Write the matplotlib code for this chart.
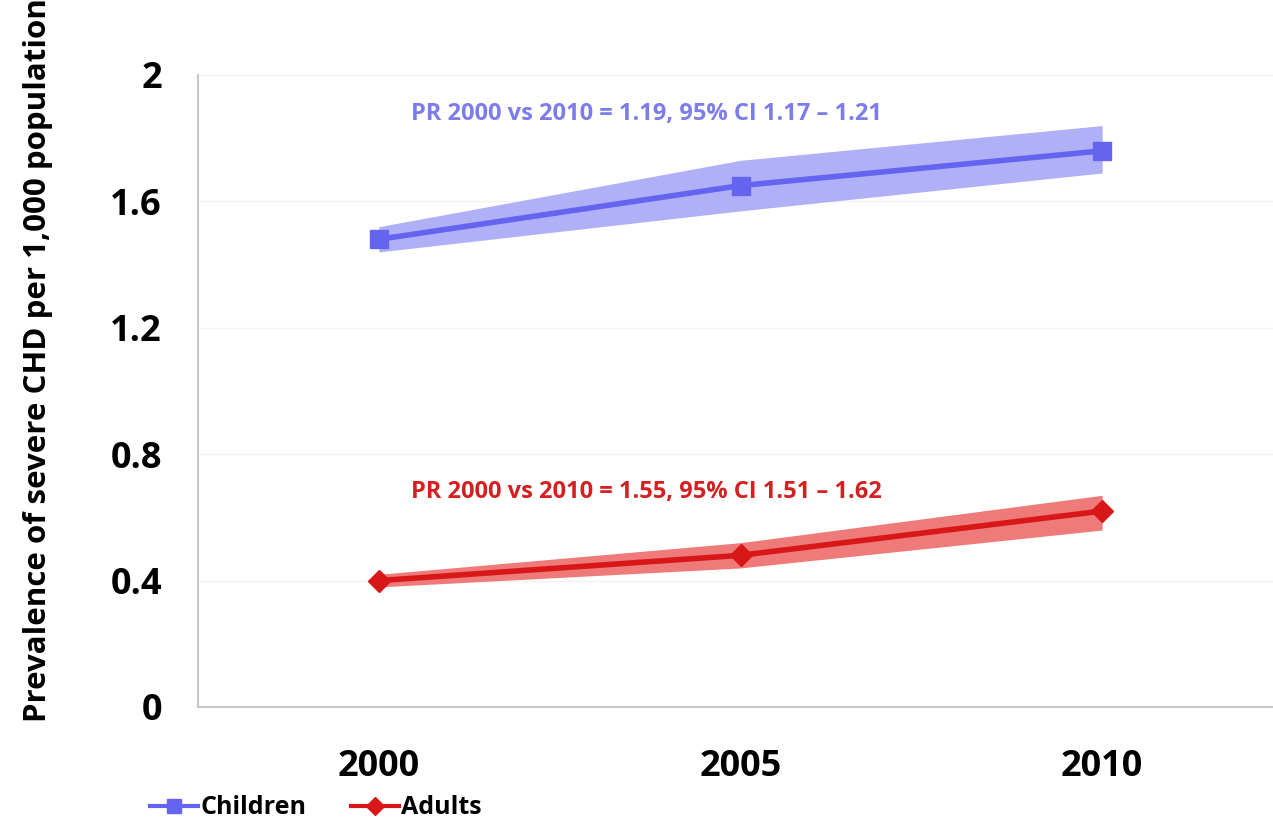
import matplotlib.pyplot as plt
from matplotlib.lines import Line2D

plt.rcParams['font.family'] = ['Open Sans', 'DejaVu Sans']
plt.rcParams['font.weight'] = 'bold'

years = ['2000', '2005', '2010']
children = [1.48, 1.65, 1.76]
children_lo = [1.44, 1.57, 1.69]
children_hi = [1.52, 1.73, 1.84]
adults = [0.40, 0.48, 0.62]
adults_lo = [0.38, 0.44, 0.56]
adults_hi = [0.42, 0.52, 0.67]
yticks = [0, 0.4, 0.8, 1.2, 1.6, 2]
ytick_labels = ['0', '0.4', '0.8', '1.2', '1.6', '2']
child_note = 'PR 2000 vs 2010 = 1.19, 95% CI 1.17 \u2013 1.21'
adult_note = 'PR 2000 vs 2010 = 1.55, 95% CI 1.51 \u2013 1.62'
ylabel = 'Prevalence of severe CHD per 1,000 population'

blue = '#6464f0'
blue_band = '#b0b0f7'
red = '#d81818'
red_band = '#ef7a7a'

W, H = 1273, 824
fig = plt.figure(figsize=(W / 100, H / 100), dpi=100)
ax = fig.add_axes([198 / W, 1 - 707 / H, (1283 - 198) / W, (707 - 75) / H])

x = list(range(len(years)))

# confidence bands
ax.fill_between(x, children_lo, children_hi, color=blue_band, lw=0, zorder=2)
ax.fill_between(x, adults_lo, adults_hi, color=red_band, lw=0, zorder=2)

ax.plot(x, children, color=blue, lw=4, marker='s', ms=13, zorder=3)
ax.plot(x, adults, color=red, lw=4, marker='D', ms=11, zorder=3)

ax.text(0.74, 1.877, child_note, color='#7c7cec', fontsize=17,
        ha='center', va='center')
ax.text(0.74, 0.68, adult_note, color='#d42020', fontsize=17,
        ha='center', va='center')

ax.set_xlim(-0.5, 2.5)
ax.set_ylim(0, 2)
ax.set_xticks(x)
ax.set_xticklabels(years, fontsize=26)
ax.set_yticks(yticks)
ax.set_yticklabels(ytick_labels, fontsize=26)
ax.tick_params(axis='y', length=0, pad=26)
ax.tick_params(axis='x', length=0, pad=30)

fig.text(38 / W, 1 - 722 / H, ylabel, rotation=90, fontsize=22.5,
         ha='center', va='bottom')

for s in ['top', 'right']:
    ax.spines[s].set_visible(False)
for s in ['left', 'bottom']:
    ax.spines[s].set_color('#c8c8c8')
    ax.spines[s].set_linewidth(1.5)
ax.grid(axis='y', color='#f2f2f2', lw=1)
ax.set_axisbelow(True)

handles = [
    Line2D([], [], color=blue, lw=3, marker='s', ms=10, label='Children'),
    Line2D([], [], color=red, lw=3, marker='D', ms=9, label='Adults'),
]
fig.legend(handles=handles, loc='center left',
           bbox_to_anchor=(150 / W, 1 - 808 / H), ncol=2, frameon=False,
           fontsize=18, handlelength=1.9, handletextpad=0.1,
           columnspacing=1.8, borderpad=0, borderaxespad=0)

fig.savefig('out.png', dpi=100)
